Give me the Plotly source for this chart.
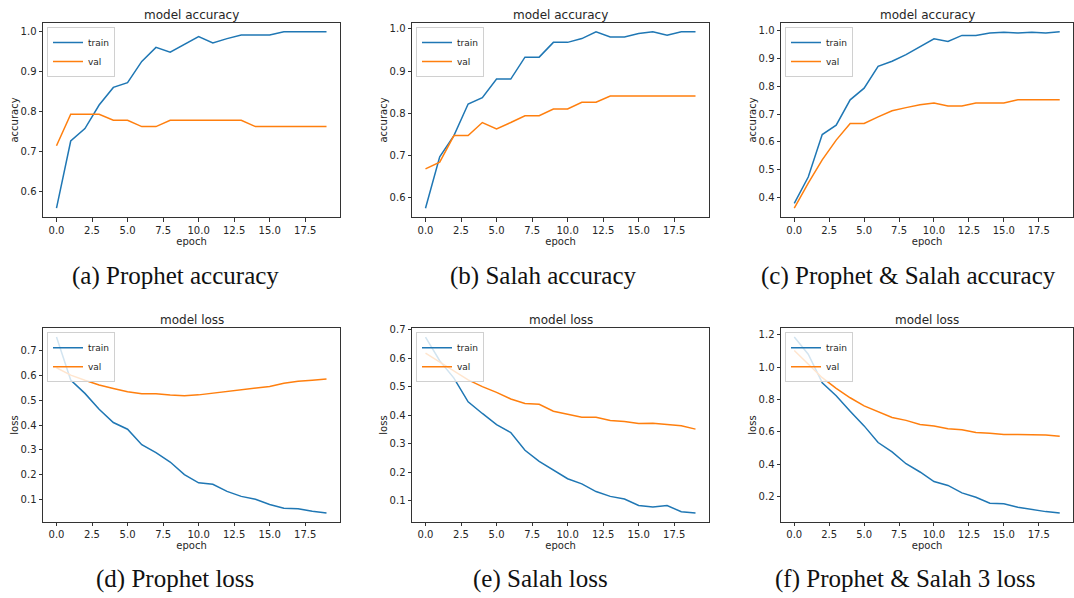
import plotly.graph_objects as go

epochs = list(range(20))

# (a) Prophet accuracy
a_train = [0.559, 0.727, 0.758, 0.817, 0.861, 0.873, 0.926, 0.961, 0.949, 0.968,
           0.988, 0.972, 0.983, 0.992, 0.992, 0.992, 1.0, 1.0, 1.0, 1.0]
a_val = [0.715, 0.794, 0.794, 0.794, 0.779, 0.779, 0.763, 0.763, 0.779, 0.779,
         0.779, 0.779, 0.779, 0.779, 0.763, 0.763, 0.763, 0.763, 0.763, 0.763]
# (b) Salah accuracy
b_train = [0.575, 0.697, 0.747, 0.822, 0.837, 0.881, 0.881, 0.933, 0.933, 0.968,
           0.968, 0.977, 0.993, 0.981, 0.981, 0.989, 0.993, 0.985, 0.993, 0.993]
b_val = [0.668, 0.684, 0.747, 0.747, 0.778, 0.763, 0.778, 0.794, 0.794, 0.810,
         0.810, 0.826, 0.826, 0.841, 0.841, 0.841, 0.841, 0.841, 0.841, 0.841]
# (c) Prophet & Salah accuracy
c_train = [0.378, 0.473, 0.626, 0.660, 0.751, 0.793, 0.872, 0.890, 0.914, 0.941,
           0.971, 0.961, 0.983, 0.983, 0.992, 0.994, 0.992, 0.994, 0.992, 0.996]
c_val = [0.361, 0.451, 0.535, 0.606, 0.666, 0.666, 0.690, 0.712, 0.723, 0.733,
         0.740, 0.729, 0.729, 0.740, 0.740, 0.740, 0.751, 0.751, 0.751, 0.751]
# (d) Prophet loss
d_train = [0.756, 0.582, 0.528, 0.464, 0.410, 0.383, 0.320, 0.288, 0.250, 0.199,
           0.166, 0.160, 0.131, 0.111, 0.099, 0.078, 0.063, 0.061, 0.051, 0.044]
d_val = [0.632, 0.602, 0.581, 0.562, 0.548, 0.535, 0.527, 0.527, 0.521, 0.518,
         0.522, 0.529, 0.537, 0.544, 0.550, 0.556, 0.569, 0.577, 0.581, 0.586]
# (e) Salah loss
e_train = [0.675, 0.592, 0.531, 0.448, 0.407, 0.368, 0.340, 0.278, 0.239, 0.207,
           0.178, 0.160, 0.133, 0.116, 0.107, 0.084, 0.079, 0.084, 0.062, 0.058]
e_val = [0.619, 0.587, 0.556, 0.525, 0.501, 0.481, 0.458, 0.442, 0.439, 0.415,
         0.404, 0.394, 0.394, 0.382, 0.379, 0.372, 0.373, 0.368, 0.364, 0.352]
# (f) Prophet & Salah 3 loss
f_train = [1.186, 1.080, 0.904, 0.823, 0.728, 0.637, 0.534, 0.476, 0.403, 0.352,
           0.293, 0.269, 0.223, 0.196, 0.159, 0.155, 0.134, 0.121, 0.107, 0.099]
f_val = [1.103, 1.018, 0.935, 0.869, 0.811, 0.761, 0.724, 0.689, 0.671, 0.646,
         0.636, 0.619, 0.613, 0.596, 0.592, 0.584, 0.584, 0.584, 0.580, 0.573]

titles = ["model accuracy"] * 3 + ["model loss"] * 3
ylabels = ["accuracy"] * 3 + ["loss"] * 3
captions = ["(a) Prophet accuracy", "(b) Salah accuracy", "(c) Prophet & Salah accuracy",
            "(d) Prophet loss", "(e) Salah loss", "(f) Prophet & Salah 3 loss"]
series = [(a_train, a_val), (b_train, b_val), (c_train, c_val),
          (d_train, d_val), (e_train, e_val), (f_train, f_val)]
ydticks = [0.1, 0.1, 0.1, 0.1, 0.1, 0.2]

W, H = 1074, 598
col_px = [(43, 340), (412, 709), (781, 1073)]
row_px = [(23, 217), (328.3, 521.7)]
cap_x = [175, 543, 908, 175, 540, 905]
cap_y = [276, 276, 276, 579, 579, 579]

BLUE = "#1f77b4"
ORANGE = "#ff7f0e"
TXT = "#262626"

fig = go.Figure()
layout = dict(
    width=W, height=H, margin=dict(l=0, r=0, t=0, b=0, autoexpand=False),
    paper_bgcolor="white", plot_bgcolor="white",
    showlegend=True,
    font=dict(family="DejaVu Sans", size=10, color=TXT),
)
annotations = []

for i in range(6):
    r, c = divmod(i, 3)
    n = i + 1
    xa = "x" if n == 1 else f"x{n}"
    ya = "y" if n == 1 else f"y{n}"
    lg = "legend" if n == 1 else f"legend{n}"
    tr, va = series[i]
    fig.add_trace(go.Scatter(x=epochs, y=tr, mode="lines", name="train",
                             line=dict(color=BLUE, width=1.5), xaxis=xa, yaxis=ya,
                             legend=lg))
    fig.add_trace(go.Scatter(x=epochs, y=va, mode="lines", name="val",
                             line=dict(color=ORANGE, width=1.5), xaxis=xa, yaxis=ya,
                             legend=lg))
    x0, x1 = col_px[c]
    y0, y1 = row_px[r]
    allv = tr + va
    lo, hi = min(allv), max(allv)
    pad = 0.05 * (hi - lo)
    common = dict(showgrid=False, zeroline=False, showline=True, linecolor="#333333",
                  linewidth=1, mirror=True, ticks="outside", ticklen=3.5,
                  tickcolor="#333333", tickfont=dict(size=10, color=TXT),
                  automargin=False)
    layout["xaxis" if n == 1 else f"xaxis{n}"] = dict(
        domain=[x0 / W, x1 / W], anchor=ya, range=[-0.95, 19.95],
        tick0=0, dtick=2.5, tickformat=".1f",
        title=dict(text="epoch", font=dict(size=10, color=TXT), standoff=2),
        **common)
    layout["yaxis" if n == 1 else f"yaxis{n}"] = dict(
        domain=[1 - y1 / H, 1 - y0 / H], anchor=xa, range=[lo - pad, hi + pad],
        tick0=0, dtick=ydticks[i], tickformat=".1f",
        title=dict(text=ylabels[i], font=dict(size=10, color=TXT), standoff=0),
        **common)
    layout[lg] = dict(
        x=(x0 + 4) / W, y=1 - (y0 + 4) / H, xanchor="left", yanchor="top",
        bgcolor="rgba(255,255,255,0.8)", bordercolor="#d0d0d0", borderwidth=1,
        font=dict(size=9, color=TXT), itemwidth=30, tracegroupgap=0,
    )
    annotations.append(dict(text=titles[i], x=(x0 + x1) / 2 / W, y=1 - (y0 - 8) / H,
                            xref="paper", yref="paper", showarrow=False,
                            font=dict(size=12, color=TXT),
                            xanchor="center", yanchor="middle"))
    annotations.append(dict(text=captions[i], x=cap_x[i] / W, y=1 - cap_y[i] / H,
                            xref="paper", yref="paper", showarrow=False, borderpad=0,
                            font=dict(family="Liberation Serif", size=25, color="#111111"),
                            xanchor="center", yanchor="middle"))

layout["annotations"] = annotations
fig.update_layout(**layout)
fig.write_html("out.html", config={"displayModeBar": False},
               post_script="document.body.style.margin='0';document.body.style.overflow='hidden';")
